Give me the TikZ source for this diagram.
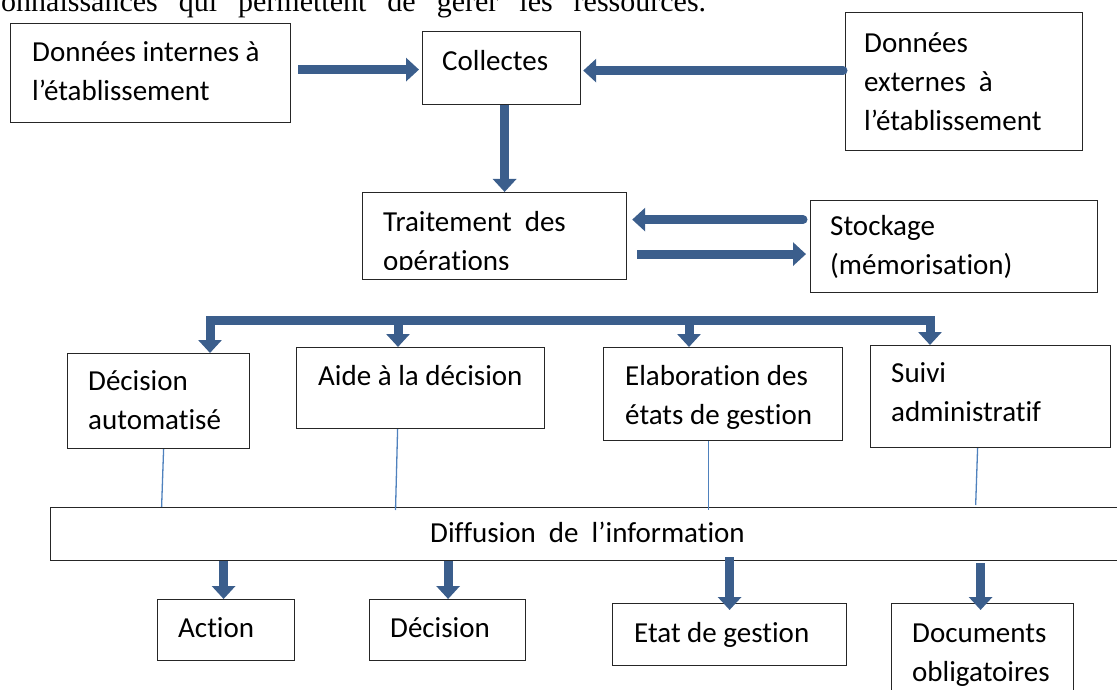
\documentclass[tikz,border=0pt]{standalone}
\usepackage{fontspec}
\setmainfont{Carlito}[Ligatures=NoCommon]
\newfontfamily\introfont{Liberation Serif}
\usetikzlibrary{arrows.meta}
\definecolor{flow}{HTML}{3B5E8C}
\definecolor{link}{HTML}{4F81BD}
\begin{document}
\begin{tikzpicture}[x=1pt,y=-1pt,
  box/.style={draw=black!85, line width=1.2pt, inner sep=0pt, anchor=north west},
  label/.style={anchor=north west, inner sep=0pt, align=left,
    font=\fontsize{29}{39}\selectfont},
  flowbar/.style={draw=flow, line width=9pt},
  flowarrow/.style={flowbar, -{Triangle[length=13pt, width=23pt]}},
  linkline/.style={draw=link, line width=1.3pt}]
\useasboundingbox (0,0) rectangle (1117,690);
\clip (0,0) rectangle (1117,690);

% introductory sentence, cut by the top edge
\node[anchor=base west, inner sep=0pt, font=\introfont\fontsize{30}{36}\selectfont]
  (intro) at (1,12) {\spaceskip=21pt\relax onnaissances qui permettent de gérer les ressources.};

% boxes
\node[box, minimum width=280pt, minimum height=99pt]  (dint)    at (10,23)  {};
\node[box, minimum width=158pt, minimum height=73pt]  (coll)    at (422,31) {};
\node[box, minimum width=237pt, minimum height=138pt] (dext)    at (845,12) {};
\node[box, minimum width=264pt, minimum height=87pt]  (trait)   at (362,192) {};
\node[box, minimum width=287pt, minimum height=92pt]  (stock)   at (810,200) {};
\node[box, minimum width=182pt, minimum height=95pt]  (decauto) at (67,353) {};
\node[box, minimum width=248pt, minimum height=81pt]  (aide)    at (296,347) {};
\node[box, minimum width=239pt, minimum height=93pt]  (elab)    at (603,347) {};
\node[box, minimum width=240pt, minimum height=102pt] (suivi)   at (870,345) {};
\node[box, minimum width=1075pt, minimum height=53pt] (diff)    at (50,507) {};
\node[box, minimum width=137pt, minimum height=61pt]  (action)  at (157,599) {};
\node[box, minimum width=156pt, minimum height=61pt]  (decis)   at (369,599) {};
\node[box, minimum width=234pt, minimum height=62pt]  (etat)    at (612,603) {};
\node[box, minimum width=182pt, minimum height=100pt] (docs)    at (891,603) {};

% box texts
\node[label] (tdint) at (32,34) {\strut Données internes à\\\strut l’établissement};
\node[label] (tcoll) at (442,43) {\strut Collectes};
\node[label] (tdext) at (864,25) {\strut Données\\\strut externes\ \ à\\\strut l’établissement};
\begin{scope}
  \clip (362,192) rectangle (626,269);
  \node[label] (ttrait) at (383,204) {\strut Traitement\ \ des\\\strut opérations};
\end{scope}
\node[label] (tstock) at (830,208) {\strut Stockage\\\strut (mémorisation)};
\node[label] (tdecauto) at (88,363) {\strut Décision\\\strut automatisé};
\node[label] (taide) at (318,358) {\strut Aide à la décision};
\node[label] (telab) at (625,358) {\strut Elaboration des\\\strut états de gestion};
\node[label] (tsuivi) at (891,355) {\strut Suivi\\\strut administratif};
\node[label] (tdiff) at (430,515) {\strut Diffusion\ \ de\ \ l’information};
\node[label] (taction) at (178,610) {\strut Action};
\node[label] (tdecis) at (390,610) {\strut Décision};
\node[label] (tetat) at (634,615) {\strut Etat de gestion};
\node[label] (tdocs) at (912,615) {\strut Documents\\\strut obligatoires};

% collection and processing flows
\draw[flowarrow, shorten <=7pt, shorten >=3pt]
  ([yshift=3.5pt]dint.east) -- ([yshift=3.5pt]dint.east -| coll.west);
\draw[flowarrow, line cap=round, shorten <=2pt, shorten >=2pt]
  ([yshift=11pt]dext.west) -- ([yshift=11pt]dext.west -| coll.east);
\draw[flowarrow] ([xshift=3pt]coll.south) -- ([xshift=3pt]coll.south |- trait.north);
\draw[flowarrow, line cap=round, shorten <=7pt, shorten >=5pt]
  ([yshift=27pt]stock.west) -- ([yshift=27pt]stock.west -| trait.east);
\draw[flowarrow, shorten <=10pt, shorten >=4pt]
  ([yshift=-18pt]trait.east) -- ([yshift=-18pt]trait.east -| stock.west);

% distribution bus towards the four uses
\coordinate (busL) at (210,320);
\coordinate (bus2) at (398,320);
\coordinate (bus3) at (689,320);
\coordinate (busR) at (930,320);
\draw[flowbar, line cap=rect] (busL) -- (busR);
\draw[flowarrow] (busL) -- (busL |- decauto.north);
\draw[flowarrow] (bus2) -- (bus2 |- aide.north);
\draw[flowarrow] (bus3) -- (bus3 |- elab.north);
\draw[flowarrow] (busR) -- (busR |- suivi.north);

% thin links into the diffusion band
\draw[linkline] ([xshift=5pt]decauto.south) -- ([xshift=3pt]decauto.south |- diff.north);
\draw[linkline, shorten >=-3pt] ([xshift=-23pt]aide.south) -- ([xshift=-25pt]aide.south |- diff.north);
\draw[linkline, shorten >=-3pt] ([xshift=-14.5pt]elab.south) -- ([xshift=-14.5pt]elab.south |- diff.north);
\draw[linkline, shorten >=2pt] ([xshift=-13pt]suivi.south) -- ([xshift=-15pt]suivi.south |- diff.north);

% outputs of the diffusion
\draw[flowarrow] ([xshift=-2.5pt]action.north |- diff.south) -- ([xshift=-2.5pt]action.north);
\draw[flowarrow] ([xshift=0.5pt]decis.north |- diff.south) -- ([xshift=0.5pt]decis.north);
\draw[flowarrow, shorten <=-4pt, shorten >=-7pt] (etat.north |- diff.south) -- (etat.north);
\draw[flowarrow, shorten <=2pt, shorten >=-7pt] ([xshift=-2pt]docs.north |- diff.south) -- ([xshift=-2pt]docs.north);
\end{tikzpicture}
\end{document}
